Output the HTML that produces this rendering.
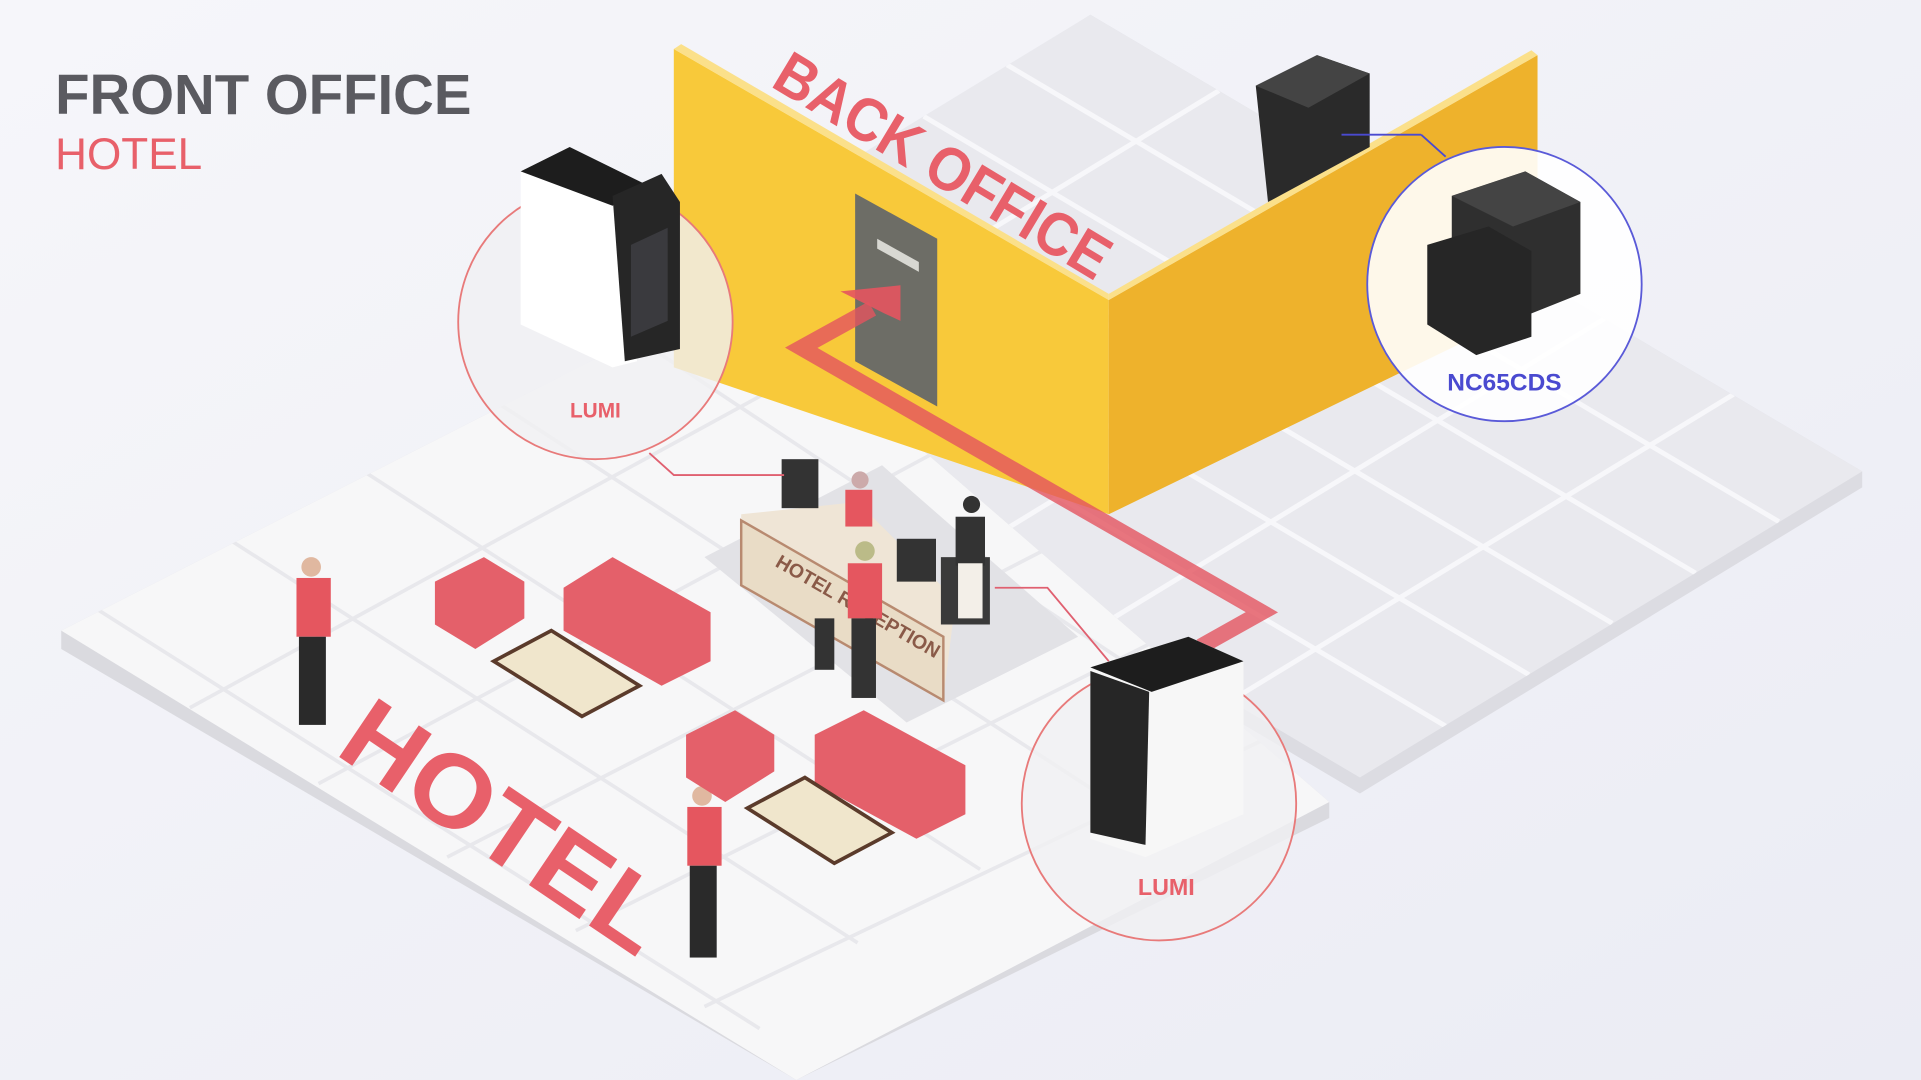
<!DOCTYPE html>
<html><head><meta charset="utf-8"><style>
html,body{margin:0;padding:0;width:1921px;height:1080px;overflow:hidden;background:#f1f1f6}
svg{display:block}
text{font-family:"Liberation Sans",sans-serif}
</style></head><body>
<svg width="1921" height="1080" viewBox="0 0 1568 882" preserveAspectRatio="none" xmlns="http://www.w3.org/2000/svg">
<defs>
<linearGradient id="bg" x1="0" y1="0" x2="1" y2="1"><stop offset="0" stop-color="#f6f6fa"/><stop offset="1" stop-color="#ebecf4"/></linearGradient>
<clipPath id="cw"><polygon points="600,235 1085,655 650,882 50,515"/></clipPath>
<clipPath id="cg"><polygon points="890,12 1520,385 1110,635 480,262"/></clipPath>
</defs>
<rect width="1568" height="882" fill="url(#bg)"/>
<!-- right grey platform -->
<polygon points="890,12 1520,385 1520,398 1110,648 480,275" fill="#dcdce2"/>
<polygon points="890,12 1520,385 1110,635 480,262" fill="#e9e9ee"/>
<g stroke="#f7f7fa" stroke-width="4" clip-path="url(#cg)">
<line x1="995" y1="74" x2="585" y2="324"/><line x1="1100" y1="136" x2="690" y2="386"/><line x1="1205" y1="198" x2="795" y2="448"/><line x1="1310" y1="260" x2="900" y2="510"/><line x1="1415" y1="322" x2="1005" y2="572"/>
<line x1="822" y1="53" x2="1452" y2="426"/><line x1="754" y1="95" x2="1384" y2="468"/><line x1="686" y1="136" x2="1316" y2="509"/><line x1="618" y1="178" x2="1248" y2="551"/><line x1="550" y1="220" x2="1180" y2="593"/>
</g>
<!-- left white platform -->
<polygon points="600,235 1085,655 1085,668 650,882 50,530 50,515" fill="#dadadf"/>
<polygon points="600,235 1085,655 650,882 50,515" fill="#f7f7f8"/>
<g stroke="#e8e8ec" stroke-width="3" clip-path="url(#cw)">
<line x1="480" y1="250" x2="1000" y2="595"/><line x1="380" y1="312" x2="900" y2="650"/><line x1="280" y1="374" x2="800" y2="710"/><line x1="180" y1="436" x2="700" y2="770"/><line x1="80" y1="498" x2="620" y2="840"/>
<line x1="155" y1="578" x2="700" y2="280"/><line x1="260" y1="640" x2="790" y2="355"/><line x1="365" y1="700" x2="880" y2="435"/><line x1="470" y1="760" x2="960" y2="515"/><line x1="575" y1="822" x2="1040" y2="600"/>
</g>
<!-- yellow walls -->
<polygon points="550,40 905,245 905,420 550,300" fill="#f8c93a"/>
<polygon points="905,245 1255,45 1255,250 905,420" fill="#eeb22c"/>
<polygon points="550,40 556,36 905,240 905,245" fill="#fbe08a"/>
<polygon points="905,245 905,240 1250,41 1255,45" fill="#fbe08a"/>
<text transform="translate(628,70) rotate(31)" font-size="50" font-weight="bold" fill="#e8606a" textLength="310" lengthAdjust="spacingAndGlyphs">BACK OFFICE</text>
<!-- door -->
<polygon points="698,158 765,195 765,332 698,295" fill="#6d6d66"/>
<polygon points="716,195 750,214 750,222 716,203" fill="#d8d8d2"/>
<!-- red path arrow -->
<polyline points="980,528 1030,500 654,284 712,252" fill="none" stroke="#e4545f" stroke-width="13" stroke-linejoin="miter" opacity="0.8"/>
<polygon points="686,238 735,233 735,262 722,256" fill="#e4545f" opacity="0.9"/>
<!-- reception -->
<polygon points="575,455 720,380 880,520 740,590" fill="#e2e2e6"/>
<polygon points="605,420 700,410 780,490 770,570 605,470" fill="#efe5d6"/>
<polygon points="605,425 770,520 770,572 605,478" fill="#e9dcc6" stroke="#b88a70" stroke-width="2"/>
<text transform="translate(632,462) rotate(30)" font-size="16" font-weight="bold" fill="#8a5a48">HOTEL RECEPTION</text>
<rect x="638" y="375" width="30" height="40" fill="#333"/>
<rect x="732" y="440" width="32" height="35" fill="#333"/>
<rect x="768" y="455" width="40" height="55" fill="#3a3a3a"/>
<!-- people -->
<g fill="#e5565f">
<circle cx="702" cy="392" r="7" fill="#caa"/><rect x="690" y="400" width="22" height="30"/>
<circle cx="793" cy="412" r="7" fill="#333"/><rect x="780" y="422" width="24" height="40" fill="#333"/><rect x="782" y="460" width="20" height="45" fill="#f3efe8"/>
<circle cx="706" cy="450" r="8" fill="#bb8"/><rect x="692" y="460" width="28" height="45"/><rect x="695" y="505" width="20" height="65" fill="#333"/>
<rect x="665" y="505" width="16" height="42" fill="#333"/>
<circle cx="254" cy="463" r="8" fill="#e0b8a0"/><rect x="242" y="472" width="28" height="48"/><rect x="244" y="520" width="22" height="72" fill="#2a2a2a"/>
<circle cx="573" cy="650" r="8" fill="#e0b8a0"/><rect x="561" y="659" width="28" height="48"/><rect x="563" y="707" width="22" height="75" fill="#2a2a2a"/>
</g>
<!-- sofas -->
<g fill="#e4606a">
<polygon points="355,475 395,455 428,475 428,505 388,530 355,510"/>
<polygon points="460,480 500,455 580,500 580,540 540,560 460,515"/>
<polygon points="560,600 600,580 632,600 632,630 592,655 560,635"/>
<polygon points="665,600 705,580 788,625 788,665 748,685 665,640"/>
</g>
<g fill="#f0e6cc" stroke="#5b3b2b" stroke-width="3">
<polygon points="403,540 450,515 522,560 475,585"/>
<polygon points="610,660 657,635 728,680 681,705"/>
</g>
<!-- HOTEL floor text -->
<text transform="translate(272,615) rotate(34)" font-size="84" font-weight="bold" fill="#e8606a" textLength="300" lengthAdjust="spacingAndGlyphs">HOTEL</text>
<!-- back office machine -->
<polygon points="1025,70 1075,45 1118,60 1118,120 1035,165" fill="#2a2a2a"/>
<polygon points="1025,70 1075,45 1118,60 1068,88" fill="#444"/>
<line x1="1095" y1="110" x2="1160" y2="110" stroke="#4a4ad0" stroke-width="1.5"/><line x1="1160" y1="110" x2="1180" y2="128" stroke="#4a4ad0" stroke-width="1.5"/>
<!-- connectors -->
<polyline points="530,370 550,388 640,388" fill="none" stroke="#e06070" stroke-width="1.5"/>
<polyline points="812,480 855,480 905,540" fill="none" stroke="#e06070" stroke-width="1.5"/>
<!-- circles -->
<circle cx="486" cy="263" r="112" fill="#f0f0f2" fill-opacity="0.8" stroke="#e87a7a" stroke-width="1.5"/>
<g>
<polygon points="425,140 465,120 520,150 520,295 500,300 425,265" fill="#fff"/>
<polygon points="425,140 465,120 530,152 500,168" fill="#1d1d1d"/>
<polygon points="500,160 540,142 555,165 555,285 510,295" fill="#262626"/>
<polygon points="515,200 545,186 545,262 515,275" fill="#3a3a3e"/>
</g>
<text x="486" y="341" text-anchor="middle" font-size="17" font-weight="bold" fill="#e8606a">LUMI</text>
<circle cx="946" cy="656" r="112" fill="#f0f0f2" fill-opacity="0.8" stroke="#e87a7a" stroke-width="1.5"/>
<g>
<polygon points="890,545 970,520 1015,540 1015,665 935,700 890,685" fill="#f7f7f7"/>
<polygon points="890,545 970,520 1015,540 940,565" fill="#1d1d1d"/>
<polygon points="890,548 938,565 935,690 890,680" fill="#262626"/>
</g>
<text x="952" y="731" text-anchor="middle" font-size="19" font-weight="bold" fill="#e8606a">LUMI</text>
<circle cx="1228" cy="232" r="112" fill="#ffffff" fill-opacity="0.9" stroke="#5a5ad8" stroke-width="1.5"/>
<g>
<polygon points="1185,160 1245,140 1290,165 1290,240 1240,260 1185,235" fill="#2f2f2f"/>
<polygon points="1165,200 1215,185 1250,205 1250,275 1205,290 1165,265" fill="#262626"/>
<polygon points="1185,160 1245,140 1290,165 1235,185" fill="#444"/>
</g>
<text x="1228" y="319" text-anchor="middle" font-size="20" font-weight="bold" fill="#4a4ad0">NC65CDS</text>
<!-- title -->
<text x="45" y="93" font-size="46" font-weight="bold" fill="#5a5a60">FRONT OFFICE</text>
<text x="45" y="138" font-size="36" fill="#e8606a">HOTEL</text>
</svg>
</body></html>
